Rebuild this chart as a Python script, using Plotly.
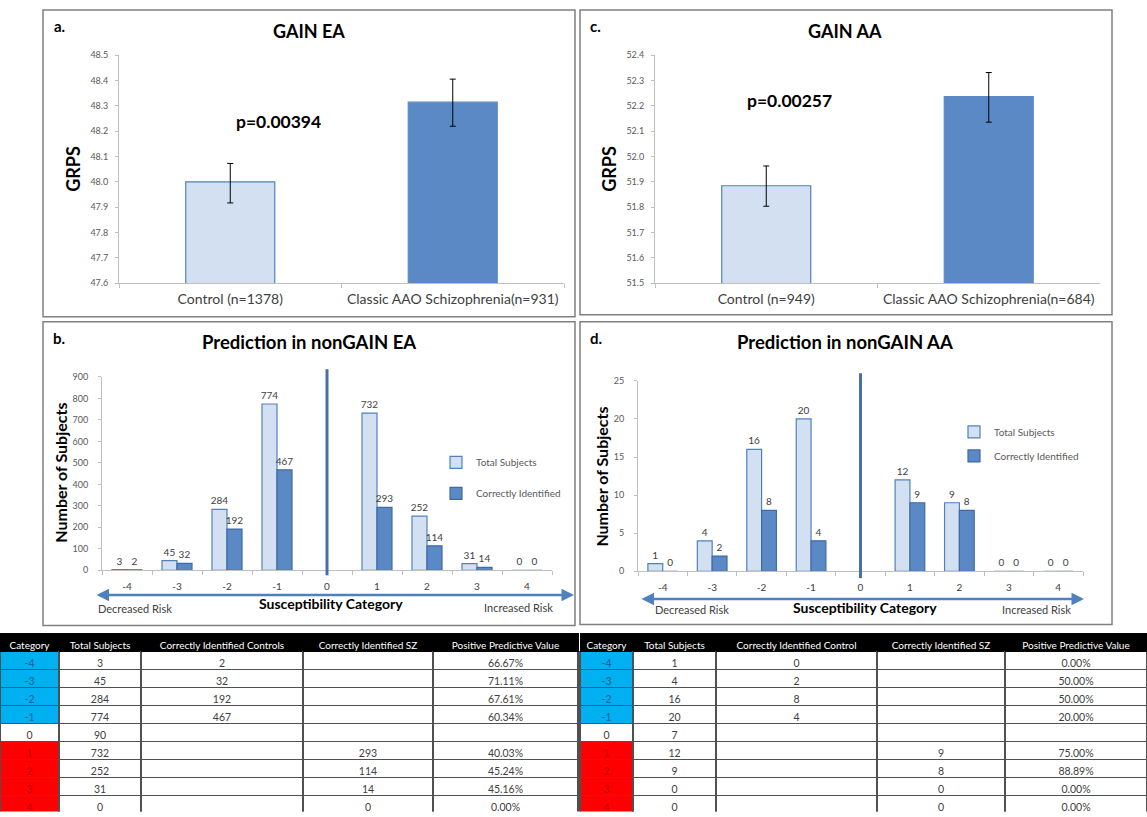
import plotly.graph_objects as go

W, H = 1147, 817
def X(px): return px / W
def Y(py): return 1 - py / H

FONT = "Lato, 'Noto Sans', sans-serif"

# ---------------- data ----------------
ea_groups = ["Control (n=1378)", "Classic AAO Schizophrenia(n=931)"]
ea_grps = [48.0, 48.315]
ea_err_plus = [0.073, 0.091]
ea_err_minus = [0.083, 0.095]
ea_p = "p=0.00394"

aa_groups = ["Control (n=949)", "Classic AAO Schizophrenia(n=684)"]
aa_grps = [51.885, 52.237]
aa_err_plus = [0.078, 0.095]
aa_err_minus = [0.081, 0.101]
aa_p = "p=0.00257"

categories = ["-4", "-3", "-2", "-1", "0", "1", "2", "3", "4"]
ea_total_plot = [3, 45, 284, 774, None, 732, 252, 31, 0]
ea_correct_plot = [2, 32, 192, 467, None, 293, 114, 14, 0]
aa_total_plot = [1, 4, 16, 20, None, 12, 9, 0, 0]
aa_correct_plot = [0, 2, 8, 4, None, 9, 8, 0, 0]

ea_tab_header = ["Category", "Total Subjects", "Correctly Identified Controls",
                 "Correctly Identified SZ", "Positive Predictive Value"]
ea_tab_total = ["3", "45", "284", "774", "90", "732", "252", "31", "0"]
ea_tab_controls = ["2", "32", "192", "467", "", "", "", "", ""]
ea_tab_sz = ["", "", "", "", "", "293", "114", "14", "0"]
ea_tab_ppv = ["66.67%", "71.11%", "67.61%", "60.34%", "", "40.03%", "45.24%", "45.16%", "0.00%"]

aa_tab_header = ["Category", "Total Subjects", "Correctly Identified Control",
                 "Correctly Identified SZ", "Positive Predictive Value"]
aa_tab_total = ["1", "4", "16", "20", "7", "12", "9", "0", "0"]
aa_tab_controls = ["0", "2", "8", "4", "", "", "", "", ""]
aa_tab_sz = ["", "", "", "", "", "9", "8", "0", "0"]
aa_tab_ppv = ["0.00%", "50.00%", "50.00%", "20.00%", "", "75.00%", "88.89%", "0.00%", "0.00%"]

# ---------------- styles ----------------
LIGHT_FILL = "#D3E0F1"
LIGHT_LINE = "#4F81BD"
DARK_FILL = "#5B89C6"
DARK_LINE = "#3E6AA6"
GRID_LINE = "#BFBFBF"
TICK_COL = "#595959"
LABEL_COL = "#404040"

def lab(vals):
    return ["" if v is None else str(v) for v in vals]

fig = go.Figure()

# Panel a
fig.add_trace(go.Bar(
    x=ea_groups, y=ea_grps, xaxis="x", yaxis="y", width=0.4,
    marker=dict(color=[LIGHT_FILL, DARK_FILL], line=dict(color=[LIGHT_LINE, DARK_FILL], width=1.2)),
    error_y=dict(type="data", symmetric=False, array=ea_err_plus, arrayminus=ea_err_minus,
                 color="black", thickness=1, width=3),
    showlegend=False, hoverinfo="skip"))
# Panel c
fig.add_trace(go.Bar(
    x=aa_groups, y=aa_grps, xaxis="x2", yaxis="y2", width=0.4,
    marker=dict(color=[LIGHT_FILL, DARK_FILL], line=dict(color=[LIGHT_LINE, DARK_FILL], width=1.2)),
    error_y=dict(type="data", symmetric=False, array=aa_err_plus, arrayminus=aa_err_minus,
                 color="black", thickness=1, width=3),
    showlegend=False, hoverinfo="skip"))

# Panel b
fig.add_trace(go.Bar(
    x=categories, y=ea_total_plot, xaxis="x3", yaxis="y3", name="Total Subjects",
    marker=dict(color=LIGHT_FILL, line=dict(color=LIGHT_LINE, width=1.2)),
    text=lab(ea_total_plot), textposition="outside", constraintext="none", cliponaxis=False,
    textfont=dict(size=10, color=LABEL_COL, family=FONT),
    legend="legend", legendgroup="t1", hoverinfo="skip"))
fig.add_trace(go.Bar(
    x=categories, y=ea_correct_plot, xaxis="x3", yaxis="y3", name="Correctly Identified",
    marker=dict(color=DARK_FILL, line=dict(color=DARK_LINE, width=1.2)),
    text=lab(ea_correct_plot), textposition="outside", constraintext="none", cliponaxis=False,
    textfont=dict(size=10, color=LABEL_COL, family=FONT),
    legend="legend", legendgroup="c1", hoverinfo="skip"))

# Panel d
fig.add_trace(go.Bar(
    x=categories, y=aa_total_plot, xaxis="x4", yaxis="y4", name="Total Subjects",
    marker=dict(color=LIGHT_FILL, line=dict(color=LIGHT_LINE, width=1.2)),
    text=lab(aa_total_plot), textposition="outside", constraintext="none", cliponaxis=False,
    textfont=dict(size=10, color=LABEL_COL, family=FONT),
    legend="legend2", legendgroup="t2", hoverinfo="skip"))
fig.add_trace(go.Bar(
    x=categories, y=aa_correct_plot, xaxis="x4", yaxis="y4", name="Correctly Identified",
    marker=dict(color=DARK_FILL, line=dict(color=DARK_LINE, width=1.2)),
    text=lab(aa_correct_plot), textposition="outside", constraintext="none", cliponaxis=False,
    textfont=dict(size=10, color=LABEL_COL, family=FONT),
    legend="legend2", legendgroup="c2", hoverinfo="skip"))

# Tables
def table(domain_x, header, total, controls, sz, ppv, widths):
    cat_fill = ["#00B0F0"] * 4 + ["white"] + ["#FF0000"] * 4
    cat_font = ["#1F5C99"] * 4 + ["#404040"] + ["#C00000"] * 4
    white = ["white"] * 9
    dark = ["#404040"] * 9
    return go.Table(
        domain=dict(x=domain_x, y=[0, Y(636)]),
        columnwidth=widths,
        header=dict(values=header, fill_color="black", height=18,
                    font=dict(color="white", size=10, family=FONT), align="center",
                    line=dict(color="black", width=1)),
        cells=dict(values=[categories, total, controls, sz, ppv],
                   fill_color=[cat_fill, white, white, white, white],
                   font=dict(color=[cat_font, dark, dark, dark, dark], size=10.5, family=FONT),
                   align="center", height=18,
                   line=dict(color="#505050", width=1.3)))

fig.add_trace(table([0, X(578)], ea_tab_header, ea_tab_total, ea_tab_controls, ea_tab_sz, ea_tab_ppv,
                    [59, 82, 162, 130, 145]))
fig.add_trace(table([X(580), 1], aa_tab_header, aa_tab_total, aa_tab_controls, aa_tab_sz, aa_tab_ppv,
                    [53, 83, 161, 128, 142]))

# ---------------- axes ----------------
tickfont = dict(size=9, color=TICK_COL, family=FONT)
def xcat(domain, anchor, size=12, standoff=3):
    return dict(domain=domain, anchor=anchor, type="category", showline=True, linecolor=GRID_LINE,
                linewidth=1, ticks="outside", tickson="boundaries", ticklen=4, tickcolor=GRID_LINE,
                tickfont=dict(size=size, color=LABEL_COL, family=FONT), showgrid=False,
                zeroline=False, fixedrange=True, ticklabelstandoff=standoff)
def yval(domain, anchor, rng, dtick, fmt, standoff=4):
    return dict(domain=domain, anchor=anchor, range=rng, dtick=dtick, tickformat=fmt,
                showline=True, linecolor=GRID_LINE, linewidth=1, ticks="outside", ticklen=3,
                tickcolor=GRID_LINE, tickfont=tickfont, showgrid=False, zeroline=False,
                fixedrange=True, ticklabelstandoff=standoff)

layout = dict(
    width=W, height=H, margin=dict(l=0, r=0, t=0, b=0),
    paper_bgcolor="white", plot_bgcolor="white",
    font=dict(family=FONT, color="black"),
    barmode="group", bargap=0.4, bargroupgap=0,
    xaxis=xcat([X(119), X(564)], "y", size=14, standoff=3),
    yaxis=yval([Y(281), Y(50)], "x", [47.6, 48.5], 0.1, ".1f", standoff=5),
    xaxis2=xcat([X(655), X(1100)], "y2", size=14, standoff=3),
    yaxis2=yval([Y(281), Y(50)], "x2", [51.5, 52.4], 0.1, ".1f", standoff=5),
    xaxis3=xcat([X(102), X(552)], "y3", size=10, standoff=7),
    yaxis3=yval([Y(572), Y(376)], "x3", [0, 900], 100, "d", standoff=8),
    xaxis4=xcat([X(638), X(1083)], "y4", size=10, standoff=7),
    yaxis4=yval([Y(573), Y(380)], "x4", [0, 25], 5, "d", standoff=8),
    legend=dict(x=X(436), y=Y(448), xanchor="left", yanchor="top",
                font=dict(size=10, color=TICK_COL, family=FONT), bgcolor="rgba(0,0,0,0)",
                tracegroupgap=12, itemwidth=30),
    legend2=dict(x=X(954), y=Y(417), xanchor="left", yanchor="top",
                 font=dict(size=10, color=TICK_COL, family=FONT), bgcolor="rgba(0,0,0,0)",
                 tracegroupgap=5, itemwidth=30),
)
fig.update_layout(**layout)

# ---------------- shapes ----------------
shapes = []
for (x0, y0, x1, y1) in [(43, 4, 575, 315), (580, 4, 1112, 313), (43, 320, 575, 628), (580, 320, 1112, 627)]:
    shapes.append(dict(type="rect", xref="paper", yref="paper", x0=X(x0), x1=X(x1), y0=Y(y1), y1=Y(y0),
                       line=dict(color="#808080", width=1.5), fillcolor="rgba(0,0,0,0)", layer="below"))
zero_idx = categories.index("0")
shapes.append(dict(type="line", xref="x3", yref="y3 domain", x0=zero_idx, x1=zero_idx, y0=-0.026, y1=1.04,
                   line=dict(color="#4A6FA8", width=3)))
shapes.append(dict(type="line", xref="x4", yref="y4 domain", x0=zero_idx, x1=zero_idx, y0=-0.036, y1=1.04,
                   line=dict(color="#4A6FA8", width=3)))
fig.update_layout(shapes=shapes)

# ---------------- annotations ----------------
ann = []
def text(px, py, s, size, bold=False, color="black", angle=0, xanchor="center"):
    ann.append(dict(xref="paper", yref="paper", x=X(px), y=Y(py), text=f"<b>{s}</b>" if bold else s,
                    showarrow=False, xanchor=xanchor, yanchor="middle", textangle=angle,
                    font=dict(size=size, color=color, family=FONT)))

text(60, 20, "a.", 15, True)
text(309, 25, "GAIN EA", 18, True)
text(73, 165, "GRPS", 18, True, angle=-90)
text(278, 117, ea_p, 17.5, True)

text(595, 20, "c.", 15, True)
text(845, 25, "GAIN AA", 18, True)
text(609, 165, "GRPS", 18, True, angle=-90)
text(789, 96, aa_p, 17.5, True)

text(59, 337, "b.", 15, True)
text(309, 341, "Prediction in nonGAIN EA", 18.5, True)
text(61, 473, "Number of Subjects", 16, True, angle=-90)
text(331, 606, "Susceptibility Category", 14, True)
text(135, 611, "Decreased Risk", 11, color="#404040")
text(518, 610, "Increased Risk", 11, color="#404040")

text(596, 337, "d.", 15, True)
text(845, 341, "Prediction in nonGAIN AA", 18.5, True)
text(602, 477, "Number of Subjects", 16, True, angle=-90)
text(865, 610, "Susceptibility Category", 14, True)
text(692, 612, "Decreased Risk", 11, color="#404040")
text(1036, 612, "Increased Risk", 11, color="#404040")

for (xa, xb, yy) in [(95, 574, 597), (640, 1084, 601)]:
    ann.append(dict(xref="paper", yref="paper", x=X(xb), y=Y(yy), ax=-(xb - xa), ay=0,
                    axref="pixel", ayref="pixel", text="", showarrow=True,
                    arrowhead=2, arrowside="end+start", arrowsize=1, arrowwidth=2.5,
                    arrowcolor="#4F81BD"))
fig.update_layout(annotations=ann)

fig.write_html("out.html", config={"displayModeBar": False},
               post_script="document.body.style.margin='0px';")
